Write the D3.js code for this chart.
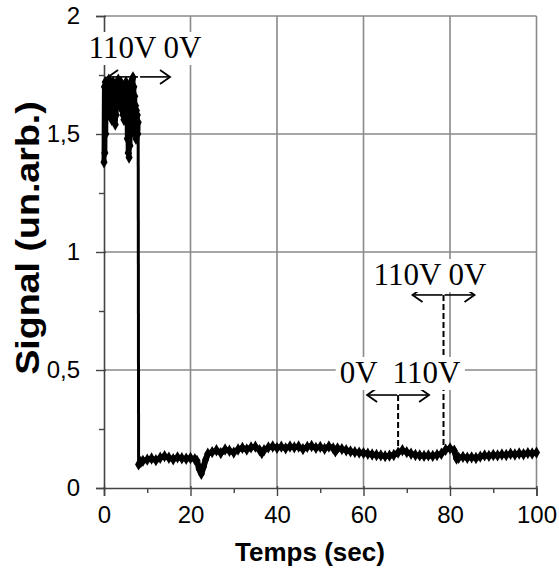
<!DOCTYPE html>
<html><head><meta charset="utf-8">
<script src="https://cdn.jsdelivr.net/npm/d3@7"></script>
<style>body{margin:0;background:#fff}</style>
</head><body><svg id="c" width="559" height="571"></svg>
<script>
// ---- data ----
const xTicks = [0, 20, 40, 60, 80, 100];
const xTickLabels = ["0", "20", "40", "60", "80", "100"];
const xMinorTicks = [10, 30, 50, 70, 90];
const yTicks = [0, 0.5, 1, 1.5, 2];
const yTickLabels = ["0", "0,5", "1", "1,5", "2"];
const yMinorTicks = [0.25, 0.75, 1.25, 1.75];

const highTime = [0.0,0.1,0.2,0.3,0.4,0.5,0.6,0.7,0.8,0.9,1.0,1.1,1.2,1.3,1.4,1.5,1.6,1.7,1.8,1.9,
  2.0,2.1,2.2,2.3,2.4,2.5,2.6,2.7,2.8,2.9,3.0,3.1,3.2,3.3,3.4,3.5,3.6,3.7,3.8,3.9,
  4.0,4.1,4.2,4.3,4.4,4.5,4.6,4.7,4.8,4.9,5.0,5.1,5.2,5.3,5.4,5.5,5.6,5.7,5.8,5.9,
  6.0,6.1,6.2,6.3,6.4,6.5,6.6,6.7,6.8,6.9,7.0,7.1,7.2,7.3,7.4,7.5,7.6,7.7,7.8,7.9];
const highSignal = [1.38,1.70,1.42,1.72,1.50,1.68,1.58,1.72,1.60,1.71,1.62,1.73,1.58,1.70,1.60,1.72,1.63,1.71,1.56,1.69,
  1.60,1.72,1.62,1.66,1.56,1.60,1.54,1.63,1.58,1.68,1.62,1.72,1.66,1.73,1.64,1.71,1.62,1.70,1.65,1.72,
  1.63,1.70,1.60,1.68,1.58,1.62,1.56,1.60,1.58,1.66,1.62,1.72,1.55,1.70,1.48,1.66,1.42,1.62,1.40,1.58,
  1.45,1.68,1.50,1.72,1.55,1.73,1.60,1.74,1.58,1.70,1.52,1.66,1.50,1.62,1.48,1.60,1.52,1.58,1.50,1.55];

const lowTime = [8,8.5,9,10,11,12,13,14,15,16,17,18,19,20,21,21.5,22,22.5,23,23.5,
  24,25,26,27,28,29,30,31,32,33,34,35,36,36.5,37,38,39,40,41,42,43,44,45,46,47,48,49,50,
  51,52,53,53.5,54,55,56,57,58,59,60,61,62,63,64,65,66,67,68,69,70,71,72,73,74,75,76,77,78,79,80,81,81.5,
  82,83,84,85,86,87,88,89,90,91,92,93,94,95,96,97,98,99,100];
const lowSignal = [0.1,0.11,0.115,0.12,0.125,0.118,0.128,0.135,0.128,0.122,0.13,0.126,0.124,0.127,0.122,0.115,0.08,0.06,0.09,0.12,
  0.145,0.152,0.16,0.148,0.163,0.158,0.15,0.163,0.17,0.163,0.172,0.175,0.16,0.148,0.16,0.172,0.176,0.17,0.175,0.168,0.176,0.172,0.176,0.165,0.174,0.178,0.17,0.174,
  0.166,0.176,0.168,0.155,0.168,0.165,0.16,0.155,0.152,0.15,0.148,0.145,0.142,0.14,0.138,0.135,0.137,0.14,0.15,0.16,0.152,0.145,0.14,0.138,0.136,0.138,0.136,0.14,0.145,0.162,0.168,0.158,0.125,
  0.128,0.132,0.128,0.13,0.127,0.133,0.138,0.136,0.14,0.138,0.142,0.14,0.145,0.142,0.146,0.143,0.148,0.146,0.15];

// annotations: switch times and label texts
const annotTexts = ["110V 0V", "110V 0V", "0V  110V"];
const annotSwitch = [8.1, 78.5, 68];
const annotArrowLevel = [1.742, 0.818, 0.394];

// ---- chart ----
const svg = d3.select("#c");
const x = d3.scaleLinear().domain([0, 100]).range([104, 536.5]);
const y = d3.scaleLinear().domain([0, 2]).range([488, 16]);
const gridColor = "#8a8a8a";

// grid
svg.append("g").selectAll("line").data(xTicks.slice(1)).join("line")
  .attr("x1", d => x(d)).attr("x2", d => x(d)).attr("y1", y(0)).attr("y2", y(2))
  .attr("stroke", gridColor).attr("stroke-width", 1.6);
svg.append("g").selectAll("line").data(yTicks.slice(1)).join("line")
  .attr("x1", x(0)).attr("x2", x(100)).attr("y1", d => y(d)).attr("y2", d => y(d))
  .attr("stroke", gridColor).attr("stroke-width", 1.6);

// axes
const axisColor = "#444";
const gx = svg.append("g").attr("transform", `translate(0,${y(0)})`)
  .call(d3.axisBottom(x).tickValues(xTicks).tickFormat((d, i) => xTickLabels[i]).tickSize(8).tickPadding(10));
const gxm = svg.append("g").attr("transform", `translate(0,${y(0)})`)
  .call(d3.axisBottom(x).tickValues(xMinorTicks).tickFormat("").tickSize(5));
const gy = svg.append("g").attr("transform", `translate(${x(0)},0)`)
  .call(d3.axisLeft(y).tickValues(yTicks).tickFormat((d, i) => yTickLabels[i]).tickSize(8).tickPadding(16));
const gym = svg.append("g").attr("transform", `translate(${x(0)},0)`)
  .call(d3.axisLeft(y).tickValues(yMinorTicks).tickFormat("").tickSize(5));
[gx, gxm, gy, gym].forEach(g => {
  g.select(".domain").attr("stroke", axisColor).attr("stroke-width", 1.6);
  g.selectAll(".tick line").attr("stroke", axisColor).attr("stroke-width", 1.4);
  g.selectAll("text").attr("font-family", "Liberation Sans, Arial, sans-serif")
    .attr("font-size", 24).attr("fill", "#000");
});
gxm.select(".domain").remove(); gym.select(".domain").remove();
gx.selectAll(".tick line").attr("y1", -2);
gy.selectAll(".tick line").attr("x1", 2);

// titles
svg.append("text").attr("x", 310).attr("y", 561).attr("text-anchor", "middle")
  .attr("font-family", "Liberation Sans, Arial, sans-serif").attr("font-weight", "bold")
  .attr("font-size", 26).text("Temps (sec)");
svg.append("text").attr("transform", "translate(39,238) rotate(-90) scale(1.14,1)").attr("text-anchor", "middle")
  .attr("font-family", "Liberation Sans, Arial, sans-serif").attr("font-weight", "bold")
  .attr("font-size", 33).text("Signal (un.arb.)");

// data
const highPts = highTime.map((t, i) => [t, highSignal[i]]);
const lowPts = lowTime.map((t, i) => [t, lowSignal[i]]);
const line = d3.line().x(d => x(d[0])).y(d => y(d[1]));
svg.append("path").datum([highPts[highPts.length - 1], lowPts[0]]).attr("d", line)
  .attr("stroke", "#000").attr("stroke-width", 3).attr("fill", "none");
svg.append("path").datum(highPts).attr("d", line).attr("fill", "none")
  .attr("stroke", "#000").attr("stroke-width", 5).attr("stroke-linejoin", "round");
svg.append("path").datum(lowPts).attr("d", line).attr("fill", "none")
  .attr("stroke", "#000").attr("stroke-width", 6).attr("stroke-linejoin", "round");
const sym = d3.symbol(d3.symbolDiamond, 44);
svg.append("g").selectAll("path").data(highPts.concat(lowPts)).join("path")
  .attr("transform", d => `translate(${x(d[0])},${y(d[1])})`).attr("d", sym).attr("fill", "#000");

// annotations
function arrow(g, x1, x2, yy) {
  const dir = Math.sign(x2 - x1);
  g.append("line").attr("x1", x1).attr("x2", x2).attr("y1", yy).attr("y2", yy)
    .attr("stroke", "#000").attr("stroke-width", 1.6);
  g.append("path").attr("d", `M${x2 - dir * 10},${yy - 7}L${x2},${yy}L${x2 - dir * 10},${yy + 7}`)
    .attr("fill", "none").attr("stroke", "#000").attr("stroke-width", 1.8);
}
const ann = svg.append("g");
const dashBottom = 0.174;
[1, 2].forEach(i => {
  ann.append("line").attr("x1", x(annotSwitch[i])).attr("x2", x(annotSwitch[i]))
    .attr("y1", y(annotArrowLevel[i])).attr("y2", y(dashBottom))
    .attr("stroke", "#000").attr("stroke-width", 2).attr("stroke-dasharray", "6,3");
});
annotSwitch.forEach((s, i) => {
  const cx = x(s), yy = y(annotArrowLevel[i]);
  arrow(ann, cx - 1, cx - 31, yy);
  arrow(ann, cx + 1, cx + 31, yy);
});
const labelCenters = [[145, 58], [430, 285], [400, 383]];
annotTexts.forEach((t, i) => {
  const gg = svg.append("g");
  const tx = gg.append("text").attr("x", labelCenters[i][0]).attr("y", labelCenters[i][1])
    .attr("text-anchor", "middle").attr("font-family", "Liberation Serif, Times New Roman, serif")
    .attr("font-size", 31).attr("fill", "#000").style("white-space", "pre").text(t);
  const bb = tx.node().getBBox();
  gg.insert("rect", "text").attr("x", bb.x - 4).attr("y", bb.y + 2).attr("width", bb.width + 8)
    .attr("height", bb.height - 2).attr("fill", "#fff");
});
</script>
</body></html>
